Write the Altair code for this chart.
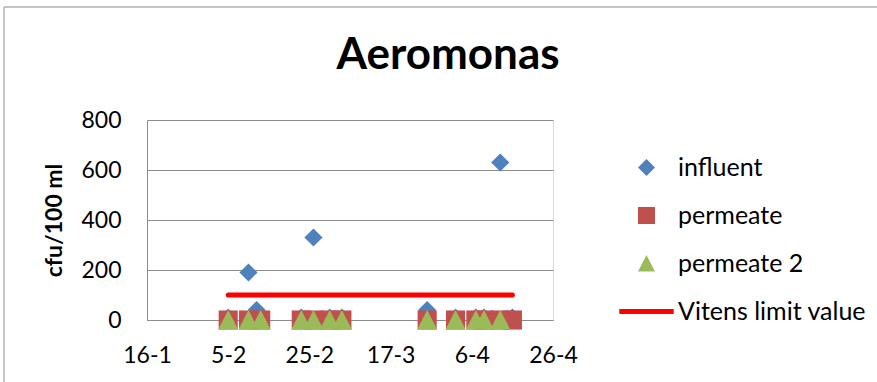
import altair as alt
import pandas as pd

# ---- data ----
series_names = ["influent", "permeate", "permeate 2", "Vitens limit value"]
series_colors = ["#4F81BD", "#C0504D", "#9BBB59", "#FF0000"]

influent_dates = ["2011-02-05", "2011-02-10", "2011-02-12", "2011-02-23", "2011-02-26",
                  "2011-03-02", "2011-03-05", "2011-03-26", "2011-04-02", "2011-04-07",
                  "2011-04-09", "2011-04-13", "2011-04-16"]
influent_values = [10, 190, 40, 10, 330, 10, 10, 40, 10, 10, 10, 630, 10]

permeate_dates = ["2011-02-05", "2011-02-10", "2011-02-13", "2011-02-23", "2011-02-26",
                  "2011-03-02", "2011-03-05", "2011-03-26", "2011-04-02", "2011-04-07",
                  "2011-04-09", "2011-04-13", "2011-04-16"]
permeate_values = [0, 0, 0, 0, 0, 0, 0, 0, 0, 0, 0, 0, 0]

permeate2_dates = ["2011-02-05", "2011-02-10", "2011-02-13", "2011-02-23", "2011-02-26",
                   "2011-03-02", "2011-03-05", "2011-03-26", "2011-04-02", "2011-04-07",
                   "2011-04-09", "2011-04-13"]
permeate2_values = [0, 0, 0, 0, 0, 0, 0, 0, 0, 0, 0, 0]

limit_dates = ["2011-02-05", "2011-04-16"]
limit_values = [100, 100]

x_tick_dates = ["2011-01-16", "2011-02-05", "2011-02-25", "2011-03-17", "2011-04-06", "2011-04-26"]
y_ticks = [0, 200, 400, 600, 800]

# ---- build tables ----
rows = []
for name, ds, vs in [("influent", influent_dates, influent_values),
                     ("permeate", permeate_dates, permeate_values),
                     ("permeate 2", permeate2_dates, permeate2_values)]:
    for d, v in zip(ds, vs):
        rows.append({"date": d, "value": v, "series": name})
points_df = pd.DataFrame(rows)
points_df["order"] = range(len(points_df))
limit_df = pd.DataFrame({"date": limit_dates, "value": limit_values,
                         "series": "Vitens limit value"})

def ms(d):
    return int(pd.Timestamp(d, tz="UTC").value // 10**6)

x_tick_ms = [ms(d) for d in x_tick_dates]
x_domain = [x_tick_ms[0], x_tick_ms[-1]]

FONT = "Lato"
GRID = "#8C8C8C"

diamond = "M0,-1L1,0L0,1L-1,0Z"
triangle = "M-1,0.95L0,-1L1,0.95Z"
legend_line = "M-3.2,-0.3L3.2,-0.3L3.2,0.3L-3.2,0.3Z"

x_enc = alt.X("date:T",
              scale=alt.Scale(type="utc", domain=x_domain),
              axis=alt.Axis(values=x_tick_ms, title=None, grid=False, ticks=False, tickSize=0,
                            labelExpr="utcFormat(datum.value, '%-d-%-m')",
                            labelFont=FONT, labelFontSize=23, labelColor="#000000",
                            labelPadding=24, domainColor=GRID, domainWidth=1,
                            labelFlush=False, labelOverlap=False))
y_enc = alt.Y("value:Q",
              scale=alt.Scale(domain=[0, 800], nice=False),
              axis=alt.Axis(values=y_ticks, title="cfu/100 ml", grid=True, gridColor=GRID,
                            gridWidth=1, ticks=False, tickSize=0, domainColor=GRID,
                            labelFont=FONT, labelFontSize=23, labelColor="#000000",
                            labelPadding=26, titleFont=FONT, titleFontSize=23,
                            titleFontWeight="bold", titleColor="#000000", titlePadding=14))

color_scale = alt.Scale(domain=series_names, range=series_colors)
shape_scale = alt.Scale(domain=series_names, range=[diamond, "square", triangle, legend_line])

legend = alt.Legend(title=None, orient="none", legendX=487, legendY=35,
                    symbolSize=289, symbolOpacity=1, labelFont=FONT,
                    labelFontSize=25, labelColor="#000000", labelLimit=400,
                    labelOffset=19, rowPadding=22, padding=0)

pts = alt.Chart(points_df).mark_point(filled=True, opacity=1).encode(
    x=x_enc,
    y=y_enc,
    color=alt.Color("series:N", scale=color_scale, legend=legend),
    shape=alt.Shape("series:N", scale=shape_scale, legend=legend),
    size=alt.Size("series:N", scale=alt.Scale(domain=["influent", "permeate", "permeate 2"],
                                              range=[330, 400, 400]), legend=None),
    order=alt.Order("order:Q"),
)

limit_line = alt.Chart(limit_df).mark_line(color="#FF0000", strokeWidth=5, strokeCap="round").encode(
    x=alt.X("date:T", scale=alt.Scale(type="utc", domain=x_domain)),
    y=alt.Y("value:Q"),
)

frame = alt.Chart(pd.DataFrame({"k": [0]})).mark_rule(color="#8C8C8C", strokeWidth=1).encode(
    x=alt.value(-143), x2=alt.value(740), y=alt.value(-113)
)
frame_left = alt.Chart(pd.DataFrame({"k": [0]})).mark_rule(color="#8C8C8C", strokeWidth=1).encode(
    x=alt.value(-143), y=alt.value(-113), y2=alt.value(270)
)

chart = alt.layer(limit_line, pts, frame, frame_left).properties(
    width=406, height=200,
    title=alt.Title("Aeromonas", font=FONT, fontSize=44, fontWeight="bold", color="#000000",
                    anchor="middle", dx=98, dy=106, offset=0, baseline="alphabetic"),
    autosize=alt.AutoSizeParams(type="none"),
    padding={"left": 147, "top": 120, "right": 324, "bottom": 62},
).configure_view(stroke=None).configure(background="#FFFFFF")

chart.save("out.html", embed_options={"renderer": "svg", "actions": False})
